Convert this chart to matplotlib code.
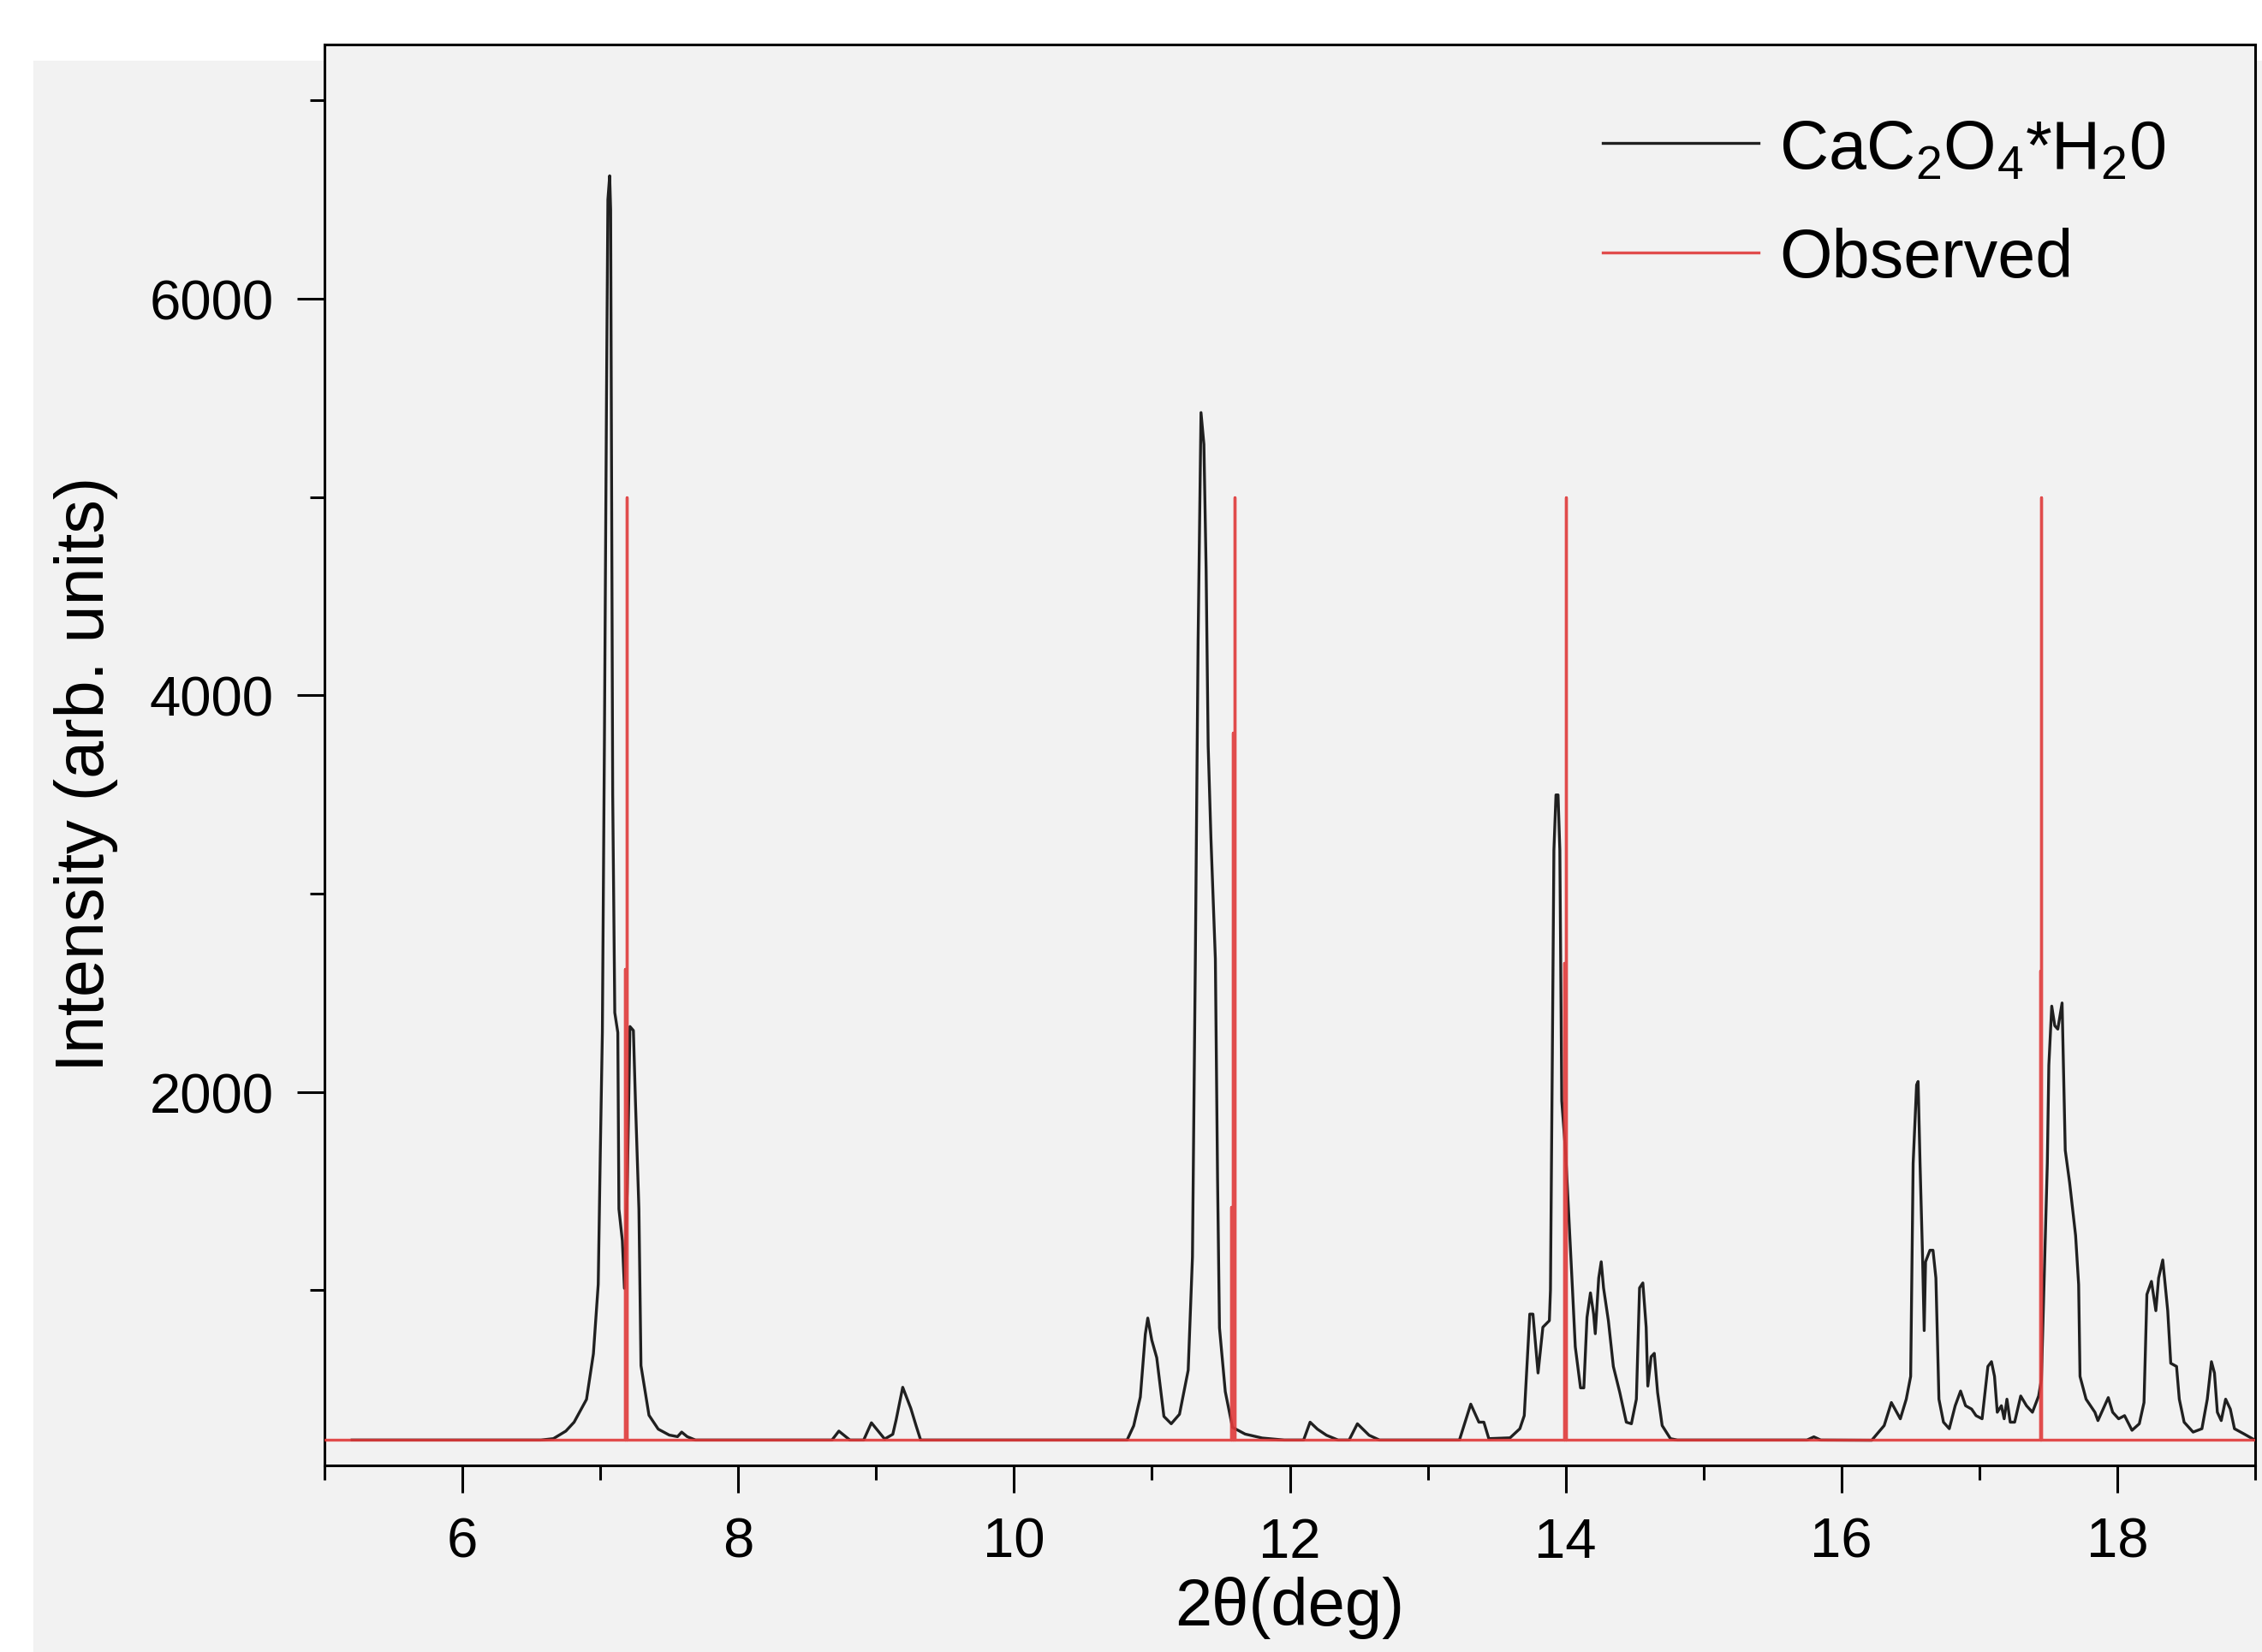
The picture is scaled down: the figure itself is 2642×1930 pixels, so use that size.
import matplotlib
matplotlib.use("Agg")
import matplotlib.pyplot as plt
from matplotlib.patches import Rectangle

# calculated pattern of CaC2O4*H2O
calc_x = [
    5.20, 6.57, 6.66, 6.75, 6.81, 6.90, 6.95, 6.985, 7.00, 7.015, 7.03, 7.045,
    7.055, 7.068, 7.075, 7.08, 7.09, 7.105, 7.127, 7.135, 7.16, 7.175, 7.195,
    7.215, 7.24, 7.255, 7.28, 7.295, 7.353, 7.42, 7.50, 7.56, 7.59, 7.63, 7.69,
    8.68, 8.73, 8.81, 8.91, 8.966, 9.062, 9.121, 9.145, 9.193, 9.252, 9.29, 9.323,
    10.82, 10.868, 10.916, 10.952, 10.97, 10.999, 11.035, 11.087, 11.14, 11.20,
    11.263, 11.294, 11.315, 11.335, 11.356, 11.377, 11.393, 11.408, 11.428,
    11.46, 11.476, 11.49, 11.532, 11.584, 11.676, 11.80, 11.96,
    12.10, 12.147, 12.20, 12.266, 12.35, 12.43, 12.49, 12.575, 12.65,
    13.23, 13.312, 13.371, 13.407, 13.443, 13.597, 13.668, 13.70, 13.74, 13.763,
    13.80, 13.835, 13.882, 13.89, 13.903, 13.915, 13.93, 13.945, 13.958, 13.972,
    14.00, 14.03, 14.05, 14.07, 14.108, 14.132, 14.155, 14.18, 14.203, 14.215,
    14.24, 14.258, 14.275, 14.31, 14.346, 14.393, 14.44, 14.477, 14.513, 14.536,
    14.56, 14.584, 14.596, 14.62, 14.643, 14.667, 14.70, 14.76, 14.81,
    15.75, 15.80, 15.85, 16.22, 16.31, 16.362, 16.427, 16.47, 16.502, 16.52,
    16.545, 16.556, 16.57, 16.588, 16.60, 16.61, 16.642, 16.664, 16.685, 16.707,
    16.74, 16.782, 16.825, 16.864, 16.90, 16.944, 16.976, 17.02, 17.062, 17.088,
    17.11, 17.13, 17.16, 17.18, 17.20, 17.224, 17.256, 17.30, 17.342, 17.385,
    17.43, 17.45, 17.493, 17.504, 17.525, 17.547, 17.569, 17.60, 17.623, 17.655,
    17.698, 17.72, 17.73, 17.774, 17.838, 17.86, 17.935, 17.967, 18.01, 18.053,
    18.107, 18.16, 18.194, 18.215, 18.248, 18.28, 18.30, 18.33, 18.35, 18.366,
    18.388, 18.43, 18.45, 18.485, 18.55, 18.614, 18.653, 18.683, 18.705, 18.726,
    18.754, 18.786, 18.82, 18.85, 18.916, 19.0,
]
calc_y = [
    245, 245, 252, 290, 335, 450, 680, 1030, 1690, 2300, 3780, 5500,
    6500, 6620, 6450, 5500, 3500, 2400, 2300, 1410, 1250, 1010, 1500,
    2330, 2310, 1950, 1410, 620, 370, 300, 270, 262, 285, 262, 245,
    245, 290, 245, 245, 332, 250, 274, 346, 511, 404, 317, 245,
    245, 317, 462, 778, 860, 749, 660, 364, 327, 375,
    597, 1168, 2671, 4282, 5426, 5266, 4640, 3745, 3279,
    2672, 1562, 810, 489, 309, 275, 255, 245,
    245, 335, 300, 269, 245, 245, 327, 269, 245,
    245, 426, 335, 335, 252, 256, 302, 368, 880, 880,
    583, 814, 847, 1000, 2122, 3219, 3498, 3498, 3219, 1955,
    1695, 1280, 1000, 715, 508, 508, 864, 987, 880, 781,
    1062, 1144, 1012, 847, 616, 484, 335, 327, 451, 1012,
    1037, 814, 517, 665, 682, 484, 318, 252, 245,
    245, 261, 245, 244, 318, 434, 352, 451, 566, 1640,
    2036, 2053, 1640, 1177, 797, 1144, 1202, 1202, 1062, 451,
    335, 302, 418, 492, 418, 401, 368, 352, 616, 640,
    566, 385, 418, 352, 451, 335, 335, 467, 418, 385,
    467, 550, 1640, 2135, 2433, 2334, 2317, 2449, 1706, 1541,
    1276, 1029, 566, 451, 385, 343, 459, 385, 352, 368,
    294, 327, 434, 979, 1045, 897, 1062, 1153, 1012, 897,
    632, 616, 451, 335, 285, 302, 451, 640, 583, 385,
    343, 451, 401, 302, 277, 244,
]

# observed reflections drawn as sticks on a flat baseline
obs_pos = [7.18, 7.19, 11.575, 11.587, 11.60, 13.99, 14.00, 17.44, 17.45]
obs_int = [2620, 5000, 1420, 3810, 5000, 2650, 5000, 2610, 5000]
obs_base = 245
obs_range = (5.0, 19.0)

x_ticks = [6, 8, 10, 12, 14, 16, 18]
x_minor = [5, 7, 9, 11, 13, 15, 17, 19]
y_ticks = [2000, 4000, 6000]
y_minor = [1000, 3000, 5000, 7000]

W, H, DPI = 2642, 1931, 200

plt.rcParams["font.family"] = ["Liberation Sans", "DejaVu Sans"]
plt.rcParams["mathtext.fontset"] = "custom"
plt.rcParams["mathtext.rm"] = "Liberation Sans"
plt.rcParams["mathtext.it"] = "Liberation Sans:italic"
plt.rcParams["mathtext.bf"] = "Liberation Sans:bold"

fig = plt.figure(figsize=(W / DPI, H / DPI), dpi=DPI, facecolor="#f2f2f2")
# plain white strips at the top and left edge of the scanned page
fig.patches.append(Rectangle((0, 1 - 70 / H), 1, 70 / H, transform=fig.transFigure,
                             color="white", zorder=-10))
fig.patches.append(Rectangle((0, 0), 37 / W, 1, transform=fig.transFigure,
                             color="white", zorder=-10))

ax = fig.add_axes([379 / W, 1 - 1713 / H, (2634 - 379) / W, (1713 - 53) / H])
ax.set_facecolor("#f2f2f2")

ax.plot(calc_x, calc_y, color="#202020", lw=1.2, label=r"CaC$_2$O$_4$*H$_2$0", zorder=2)

# stick pattern as one polyline: baseline -> up -> down for each reflection
ox, oy = [obs_range[0]], [obs_base]
for p, h in sorted(zip(obs_pos, obs_int)):
    ox += [p, p, p]
    oy += [obs_base, h, obs_base]
ox.append(obs_range[1])
oy.append(obs_base)
ax.plot(ox, oy, color="#e03a3a", lw=1.2, alpha=0.9, label="Observed", zorder=3)

ax.set_xlim(5, 19)
ax.set_ylim(117, 7282)
ax.set_xticks(x_ticks)
ax.set_xticks(x_minor, minor=True)
ax.set_yticks(y_ticks)
ax.set_yticks(y_minor, minor=True)
ax.tick_params(which="both", direction="out", width=1.1, labelsize=23.5, pad=10,
               top=False, right=False)
ax.tick_params(which="major", length=11.5)
ax.tick_params(which="minor", length=6)
for s in ax.spines.values():
    s.set_linewidth(1.1)

ax.set_xlabel("2θ(deg)", fontsize=28)
ax.xaxis.set_label_coords(0.5, -0.0775)
ax.set_ylabel("Intensity (arb. units)", fontsize=28.5)
ax.yaxis.set_label_coords(-0.107, 0.487)

ax.legend(loc="upper left", bbox_to_anchor=(1872 / W, 1 - 138 / H),
          bbox_transform=fig.transFigure, frameon=False, fontsize=28.5,
          handlelength=2.3, handletextpad=0.3, borderpad=0, borderaxespad=0,
          labelspacing=0.67)

fig.savefig("out.png", dpi=DPI, facecolor=fig.get_facecolor())
